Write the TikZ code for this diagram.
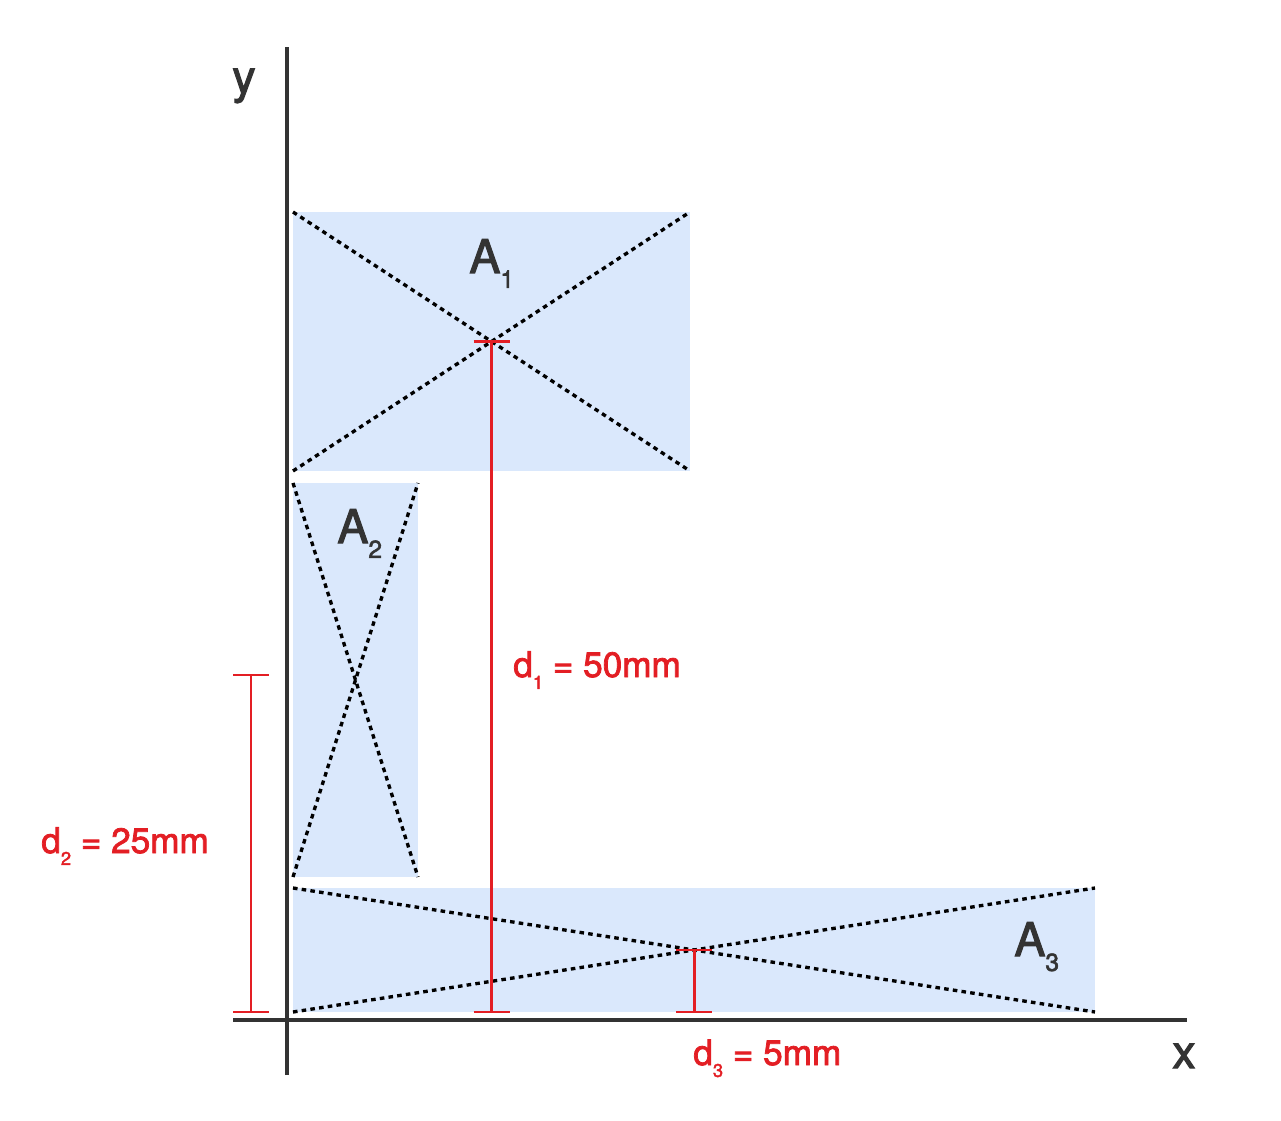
\documentclass[tikz,border=0pt]{standalone}
\usepackage{fontspec}
\setmainfont{TeX Gyre Heros}[FakeBold=2.2]
\usepackage{xcolor}
\usepackage{tikz}
\usetikzlibrary{positioning,calc}

\definecolor{areablue}{HTML}{DAE8FC}
\definecolor{dimred}{HTML}{E31E24}
\definecolor{axisgray}{HTML}{333333}

\newcommand{\subA}[1]{\raisebox{-8.5pt}{\fontsize{14}{14}\selectfont #1}}
\newcommand{\subD}[1]{\raisebox{-6.8pt}{\fontsize{10.5}{10.5}\selectfont #1}}

\begin{document}
\begin{tikzpicture}[x=0.02cm, y=-0.02cm,
    area/.style={fill=areablue},
    diag/.style={line width=1.9pt, dash pattern=on 2.6pt off 2.4pt, black},
    axisline/.style={line width=1.9pt, axisgray},
    dim/.style={line width=1.7pt, dimred},
    arealabel/.style={anchor=base west, inner sep=0pt, text=axisgray, font=\fontsize{26.5}{26.5}\selectfont},
    dimlabel/.style={anchor=base west, inner sep=0pt, text=dimred, font=\fontsize{20}{20}\selectfont}]
    \useasboundingbox (0,0) rectangle (1281,1121);

    % Areas
    \coordinate (a1nw) at (293,212);  \coordinate (a1se) at (690,471);
    \coordinate (a2nw) at (293,483);  \coordinate (a2se) at (418,877);
    \coordinate (a3nw) at (293,888);  \coordinate (a3se) at (1095,1012);
    \foreach \a in {a1,a2,a3} {
        \fill[area] (\a nw) rectangle (\a se);
        \draw[diag] (\a nw) -- (\a se);
        \draw[diag] (\a nw |- \a se) -- (\a se |- \a nw);
    }
    \node[arealabel] at (469,273) (lblA1) {A\subA{1}};
    \node[arealabel] at (337,543) (lblA2) {A\subA{2}};
    \node[arealabel] at (1014,956) (lblA3) {A\subA{3}};

    % Axes
    \coordinate (ytop) at (287,47);
    \coordinate (ybot) at (287,1075);
    \coordinate (xleft) at (233,1020);
    \coordinate (xright) at (1187,1020);
    \draw[axisline] (ybot) -- (ytop);
    \draw[axisline] (xleft) -- (xright);
    \node[arealabel, anchor=base] at (244,93) (ylbl) {y};
    \node[arealabel, anchor=base] at (1184,1068) (xlbl) {x};

    % Distances
    \coordinate (d1top) at ($(a1nw)!0.5!(a1se)$);
    \coordinate (d1bot) at (d1top |- a3se);
    \coordinate (d2top) at (251,675);
    \coordinate (d2bot) at (d2top |- a3se);
    \coordinate (d3top) at ($(a3nw)!0.5!(a3se)$);
    \coordinate (d3bot) at (d3top |- a3se);
    \foreach \d in {d1,d2,d3} {
        \draw[dim] (\d top) -- (\d bot);
        \draw[dim] ([xshift=-0.36cm]\d top) -- ([xshift=0.36cm]\d top);
        \draw[dim] ([xshift=-0.36cm]\d bot) -- ([xshift=0.36cm]\d bot);
    }
    \node[dimlabel] at (513,677) (lbld1) {d\subD{1} = 50mm};
    \node[dimlabel] at (41,853) (lbld2) {d\subD{2} = 25mm};
    \node[dimlabel] at (693,1065) (lbld3) {d\subD{3} = 5mm};
\end{tikzpicture}
\end{document}
